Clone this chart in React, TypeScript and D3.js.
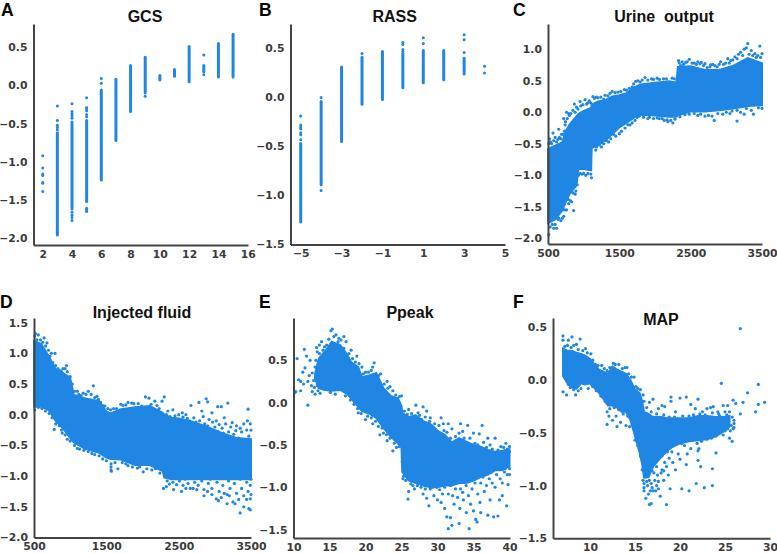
import { useEffect, useRef } from "react";
import * as d3 from "d3";

const BLUE = "#1f86e3";
const INK = "#3b3b3b";

type Pt = [number, number];
type Column = { at: number; bands: Pt[]; dots: number[] };

// A: GCS, one column per score. bands are [low, high] runs of overlapping dots
const gcsColumns: Column[] = [
  { at: 2, bands: [], dots: [-0.92, -1.08, -1.16, -1.18, -1.27, -1.28, -1.39] },
  { at: 3, bands: [[-1.96, -0.62]], dots: [-0.27, -0.46, -0.52, -0.55, -0.58] },
  { at: 4, bands: [[-1.62, -0.48]], dots: [-0.24, -0.34, -0.37, -0.4, -0.43, -1.66, -1.7, -1.73, -1.77] },
  { at: 5, bands: [[-1.52, -0.46]], dots: [-0.16, -0.29, -0.31, -0.33, -0.38, -0.41, -1.61, -1.63, -1.65] },
  { at: 6, bands: [[-1.24, -0.06]], dots: [0.09, 0.03] },
  { at: 7, bands: [[-0.72, 0.08]], dots: [] },
  { at: 8, bands: [[-0.34, 0.26]], dots: [] },
  { at: 9, bands: [[-0.08, 0.37]], dots: [-0.1, -0.14] },
  { at: 10, bands: [[0.07, 0.13]], dots: [] },
  { at: 11, bands: [[0.12, 0.21]], dots: [] },
  { at: 12, bands: [[0.05, 0.51]], dots: [] },
  { at: 13, bands: [[0.18, 0.26]], dots: [0.4, 0.14] },
  { at: 14, bands: [[0.11, 0.55]], dots: [] },
  { at: 15, bands: [[0.11, 0.67]], dots: [] },
];

// B: RASS
const rassColumns: Column[] = [
  { at: -5, bands: [[-1.27, -0.47]], dots: [-0.19, -0.28, -0.3, -0.32, -0.36, -0.38, -0.43] },
  { at: -4, bands: [[-0.89, -0.04]], dots: [0, -0.95] },
  { at: -3, bands: [[-0.45, 0.31]], dots: [] },
  { at: -2, bands: [[-0.07, 0.41]], dots: [0.45] },
  { at: -1, bands: [[-0.02, 0.47]], dots: [] },
  { at: 0, bands: [[0.1, 0.45]], dots: [0.49, 0.47, 0.54, 0.56] },
  { at: 1, bands: [[0.15, 0.48]], dots: [0.55, 0.61] },
  { at: 2, bands: [[0.18, 0.48]], dots: [] },
  { at: 3, bands: [[0.24, 0.4]], dots: [0.64, 0.59, 0.46] },
  { at: 4, bands: [], dots: [0.32, 0.25] },
];

// C: urine output, dense cloud outline [x, low, high] + loose dots around it
const urineCloud: [number, number, number][] = [
  [500, -1.76, -0.58], [600, -1.7, -0.53], [700, -1.56, -0.48], [750, -1.42, -0.3], [800, -1.3, -0.2],
  [900, -1.16, -0.06], [925, -0.9, -0.03], [1000, -0.9, 0.02], [1105, -0.92, 0.07], [1112, -0.57, 0.12],
  [1200, -0.52, 0.17], [1300, -0.45, 0.19], [1400, -0.35, 0.25], [1500, -0.24, 0.27], [1600, -0.17, 0.3],
  [1700, -0.09, 0.39], [1800, -0.04, 0.44], [2000, -0.05, 0.47], [2200, -0.07, 0.49], [2300, -0.07, 0.47],
  [2320, -0.05, 0.72], [2500, 0.01, 0.73], [2700, 0.01, 0.67], [2900, 0.03, 0.67], [3100, 0.06, 0.74],
  [3300, 0.1, 0.86], [3500, 0.11, 0.78],
];
const urineDots: Pt[] = [
  [3300, 1.09], [3470, 1.05], [3250, 1.0], [3200, 0.95], [3350, 0.98], [3400, 0.93], [3280, 1.02], [3440, 0.9],
  [3120, 0.88], [3020, 0.85], [3060, 0.82], [2920, 0.8], [2960, 0.76], [2650, 0.79], [2600, 0.8], [2700, 0.77],
  [2480, 0.84], [2330, 0.82], [2380, 0.8], [2430, 0.79], [2550, 0.78], [2780, 0.75], [2840, 0.74],
  [2030, 0.54], [1860, 0.55], [1950, 0.53], [2120, 0.53], [2240, 0.54], [1760, 0.5], [1680, 0.4], [1570, 0.36],
  [1400, 0.33], [1480, 0.32], [1300, 0.27], [1200, 0.23], [1130, 0.25], [1060, 0.15], [1020, 0.2], [950, 0.17],
  [870, 0.13], [900, 0.08], [760, 0], [790, -0.02], [720, -0.1], [740, -0.2], [650, -0.27], [570, -0.33],
  [520, -0.42], [600, -0.4], [660, -0.4], [690, -0.35], [550, -0.5], [530, -0.47],
  [1110, -1.04], [1030, -1.0], [980, -0.98], [860, -1.56], [880, -1.3], [830, -1.42], [790, -1.45], [760, -1.55],
  [720, -1.65], [680, -1.72], [650, -1.68], [620, -1.84], [580, -1.84], [560, -1.78], [510, -1.94],
  [1170, -0.6], [1250, -0.55], [1350, -0.47], [1450, -0.38], [1500, -0.34], [1650, -0.2], [1720, -0.13],
  [3150, -0.14], [2830, -0.13], [3250, -0.03], [3380, -0.03], [2250, -0.17], [2180, -0.15], [2130, -0.13],
  [2060, -0.1], [1900, -0.1], [2700, -0.06], [2600, -0.05], [2950, -0.03], [3050, -0.02], [3200, 0.0],
];
const urineEdge: Pt[] = [
  [510, -0.5], [540, -0.48], [580, -0.45], [620, -0.47], [640, -0.43], [680, -0.42], [710, -0.35], [730, -0.3], [745, -0.15],
  [770, -0.1], [800, -0.05], [820, -0.02], [850, 0.03], [880, 0.0], [920, 0.05], [960, 0.1], [990, 0.12], [1040, 0.13],
  [1080, 0.18], [1100, 0.15], [1150, 0.22], [1180, 0.24], [1240, 0.24], [1280, 0.21], [1340, 0.26], [1370, 0.3], [1440, 0.31],
  [1520, 0.33], [1600, 0.35], [1640, 0.38], [1700, 0.45], [1730, 0.49], [1790, 0.48], [1820, 0.51], [1900, 0.51], [1980, 0.52],
  [2060, 0.52], [2160, 0.53], [2270, 0.53], [2340, 0.78], [2360, 0.74], [2400, 0.76], [2450, 0.8], [2520, 0.78], [2580, 0.76],
  [2630, 0.77], [2680, 0.74], [2730, 0.71], [2770, 0.72], [2810, 0.76], [2870, 0.72], [2900, 0.76], [2990, 0.78], [3040, 0.78],
  [3090, 0.83], [3150, 0.85], [3170, 0.92], [3230, 0.9], [3320, 0.92], [3370, 0.9], [3420, 0.87], [3480, 0.87], [3500, 0.93],
  [1180, -0.55], [1220, -0.52], [1280, -0.5], [1320, -0.45], [1380, -0.42], [1420, -0.35], [1530, -0.3], [1580, -0.25],
  [1620, -0.2], [1680, -0.17], [1750, -0.08], [1780, -0.06], [1840, -0.08], [1920, -0.08], [1980, -0.1], [2030, -0.09],
  [2100, -0.1], [2170, -0.12], [2220, -0.13], [2280, -0.11], [2350, -0.07], [2420, -0.04], [2480, -0.03], [2550, -0.02],
  [2640, -0.03], [2750, -0.05], [2800, -0.06], [2880, -0.02], [3000, 0], [3080, 0.02], [3150, 0.03], [3280, 0.06], [3350, 0.03],
  [3450, 0.07], [3500, 0.06], [530, -1.82], [600, -1.78], [640, -1.7], [700, -1.68], [730, -1.55], [780, -1.38], [810, -1.4],
  [850, -1.28], [890, -1.25], [910, -1.15], [925, -1.0], [950, -0.97], [1000, -0.97], [1060, -0.97], [1100, -0.98],
];

// D: injected fluid
const fluidCloud: [number, number, number][] = [
  [500, 0.13, 1.2], [600, 0.13, 1.15], [700, 0.08, 0.96], [800, -0.1, 0.74], [900, -0.22, 0.68], [1000, -0.38, 0.6],
  [1050, -0.45, 0.32], [1200, -0.55, 0.27], [1400, -0.62, 0.22], [1500, -0.7, 0.05], [1560, -0.72, 0.02],
  [1700, -0.73, 0.09], [1900, -0.82, 0.12], [2100, -0.82, 0.14], [2280, -0.92, 0.03], [2300, -1.02, 0], [2400, -1.05, -0.05],
  [2500, -1.05, -0.06], [2700, -1.05, -0.12], [2900, -1.05, -0.2], [3100, -1.05, -0.3], [3300, -1.05, -0.38], [3500, -1.05, -0.4],
];
const fluidDots: Pt[] = [
  [520, 1.32], [560, 1.3], [640, 1.25], [680, 1.17], [740, 1.0], [790, 1.0], [950, 0.8], [930, 0.75], [880, 0.7],
  [1320, 0.47], [1250, 0.38], [1180, 0.35], [1100, 0.38], [1370, 0.3], [1420, 0.2], [1480, 0.14], [1600, 0.1],
  [1700, 0.17], [1800, 0.2], [1850, 0.19], [1940, 0.18], [2040, 0.29], [2090, 0.27], [2170, 0.22], [2300, 0.29],
  [2270, 0.22], [2200, 0.15], [2350, 0.06], [2420, 0.08], [2550, 0.03], [2600, 0.0], [2670, 0.15], [2780, 0.2],
  [2880, 0.26], [2900, 0.21], [2820, 0.06], [2960, 0.03], [3040, 0.13], [3090, 0.13], [3180, 0.19], [3130, -0.05],
  [3240, -0.13], [3300, -0.18], [3460, 0.09], [3450, -0.1], [3400, -0.15], [3490, -0.15], [3350, -0.22],
  [780, -0.24], [890, -0.3], [960, -0.4], [1100, -0.55], [1300, -0.63], [1450, -0.72],
  [1565, -0.8], [1565, -0.85], [1565, -0.9], [1570, -0.92], [1660, -0.88], [1800, -0.83], [1930, -0.87], [2010, -0.93],
  [2130, -0.9], [2290, -1.2], [2430, -1.22], [2330, -1.17], [2540, -1.25], [2600, -1.2], [2700, -1.2], [2750, -1.22],
  [2850, -1.32], [2900, -1.25], [2960, -1.3], [3050, -1.4], [3090, -1.35], [3020, -1.37], [3170, -1.45], [3200, -1.32],
  [3250, -1.42], [3280, -1.45], [3350, -1.6], [3400, -1.5], [3470, -1.53], [3490, -1.55], [3440, -1.38], [3490, -1.37],
  [3330, -1.38], [3130, -1.28],
];
const fluidEdge: Pt[] = [
  [510, 1.28], [540, 1.22], [590, 1.22], [620, 1.18], [660, 1.12], [700, 1.05], [720, 0.95], [760, 0.85], [800, 0.8], [830, 0.75],
  [860, 0.72], [900, 0.75], [960, 0.7], [1000, 0.62], [1030, 0.5], [1060, 0.38], [1120, 0.33], [1150, 0.31], [1220, 0.33],
  [1290, 0.33], [1340, 0.28], [1390, 0.25], [1450, 0.15], [1520, 0.1], [1560, 0.08], [1640, 0.1], [1730, 0.15], [1770, 0.16],
  [1880, 0.18], [1990, 0.14], [2120, 0.17], [2230, 0.1], [510, 0.08], [560, 0.12], [610, 0.1], [660, 0.06], [710, 0.02],
  [750, -0.05], [800, -0.15], [850, -0.18], [880, -0.25], [930, -0.33], [1000, -0.43], [1060, -0.5], [1130, -0.56], [1190, -0.58],
  [1250, -0.6], [1340, -0.65], [1400, -0.67], [1500, -0.75], [1620, -0.78], [1720, -0.78], [1770, -0.8], [1860, -0.85],
  [1960, -0.85], [2060, -0.88], [2180, -0.88], [2240, -0.95],
  // thinning part on the right, above the solid core
  [2330, 0.0], [2380, -0.03], [2450, -0.02], [2500, 0.0], [2560, -0.04], [2620, -0.06], [2650, -0.1], [2710, -0.05], [2740, -0.12],
  [2790, -0.1], [2840, -0.03], [2860, -0.15], [2920, -0.08], [2970, -0.12], [3000, -0.2], [3020, -0.1], [3060, -0.16], [3100, -0.22],
  [3150, -0.15], [3190, -0.28], [3220, -0.2], [3260, -0.32], [3290, -0.26], [3330, -0.38], [3370, -0.28], [3410, -0.4], [3440, -0.25],
  [3470, -0.35], [3490, -0.42], [3500, -0.25], [2680, -0.14], [2800, -0.2], [2900, -0.18], [3050, -0.28], [3120, -0.3], [3240, -0.38],
  // and below it
  [2340, -1.08], [2370, -1.13], [2420, -1.1], [2470, -1.14], [2510, -1.08], [2560, -1.15], [2590, -1.05], [2630, -1.12], [2660, -1.2],
  [2680, -1.03], [2720, -1.1], [2770, -1.15], [2790, -1.0], [2820, -1.08], [2850, -1.22], [2880, -0.98], [2910, -1.12], [2940, -1.05],
  [2960, -1.2], [3000, -0.95], [3030, -1.1], [3060, -1.25], [3080, -1.02], [3110, -1.15], [3140, -0.92], [3170, -1.3], [3190, -1.08],
  [3210, -1.2], [3240, -0.95], [3270, -1.12], [3300, -1.28], [3320, -0.88], [3350, -1.05], [3370, -1.2], [3400, -1.32], [3420, -0.9],
  [3440, -1.1], [3460, -1.25], [3480, -0.95], [3490, -1.15], [3500, -1.3], [3500, -1.05], [3390, -0.98], [3160, -1.0], [3450, -0.85],
];

// E: Ppeak
const ppeakCloud: [number, number, number][] = [
  [13, 0.28, 0.34], [13.5, 0.17, 0.52], [14.5, 0.15, 0.62], [15.3, 0.14, 0.72], [16.5, 0.15, 0.68], [17.5, 0.1, 0.56], [18, 0.05, 0.48],
  [19, -0.05, 0.42], [19.5, -0.1, 0.3], [20.5, -0.13, 0.32], [21.5, -0.18, 0.35], [22.5, -0.3, 0.17], [23.5, -0.4, 0.08],
  [24.5, -0.48, 0.05], [25, -0.53, -0.04], [25.1, -0.82, -0.12], [26, -0.92, -0.17], [27, -0.95, -0.15], [28, -0.98, -0.22],
  [29, -1.0, -0.25], [30, -1.0, -0.33], [31, -0.98, -0.38], [32, -0.98, -0.47], [33, -0.95, -0.42], [34, -0.95, -0.46],
  [35, -0.92, -0.5], [36, -0.88, -0.52], [37, -0.85, -0.56], [38, -0.8, -0.58], [39, -0.8, -0.57], [40, -0.75, -0.55],
];
const ppeakDots: Pt[] = [
  [10.3, 0.13], [10.5, 0.52], [10.2, 0.12], [10.7, 0.27], [11, 0.14], [11, 0.25], [11.3, 0.36], [11.4, 0.22],
  [11.5, 0.63], [11.6, 0.41], [11.8, 0.55], [12, -0.03], [12, 0.25], [12.3, 0.5], [12.2, 0.32], [12.5, 0.2], [12.6, 0.13],
  [13, 0.1], [13.1, 0.3], [13, 0.42], [13.2, 0.65], [13.3, 0.6], [13.6, 0.68], [13.9, 0.72], [14.1, 0.62],
  [15.2, 0.85], [15.4, 0.87], [15.9, 0.8], [16.3, 0.76], [17, 0.78], [17.3, 0.72], [18, 0.62], [18.8, 0.55], [19.5, 0.42],
  [21, 0.42], [21.2, 0.47], [22.1, 0.34], [23, 0.25], [23.4, 0.19], [25, 0.08], [26, -0.08], [27, -0.03], [28, -0.05],
  [28.5, -0.1], [27.5, -0.15], [29, -0.18], [30.5, -0.18], [30.8, -0.25], [31.5, -0.25], [32, -0.31], [33.2, -0.25],
  [33.5, -0.34], [34.2, -0.27], [35, -0.36], [36.2, -0.27], [35.8, -0.37], [37, -0.42], [38, -0.42], [39.5, -0.48], [40, -0.52],
  [18.5, 0], [19, -0.12], [20, -0.2], [21, -0.25], [22, -0.38], [22.5, -0.36], [23, -0.45], [23.8, -0.57], [24.3, -0.53],
  [25.2, -0.9], [26, -1.05], [25.9, -1.14], [26.8, -1.02], [28, -1.08], [28.5, -1.13], [28.8, -1.22], [29.5, -1.1],
  [30, -1.15], [30.5, -1.18], [31, -1.25], [31.3, -1.35], [31.5, -1.49], [31.8, -1.36], [32, -1.45], [32.3, -1.2],
  [33, -1.43], [33.1, -1.25], [33.6, -1.15], [34.4, -1.49], [34, -1.3], [34.6, -1.2], [35, -1.28], [35.3, -1.38], [35.5, -1.41],
  [35.9, -1.18], [36, -1.3], [36.5, -1.05], [37, -1.33], [37.3, -1.15], [37.8, -1.35], [38, -1.0], [38.4, -1.34], [38.6, -1.15],
  [39, -1.1], [39, -0.95], [39.6, -1.22], [39.8, -0.97], [40, -0.85],
];
const ppeakEdge: Pt[] = [
  [12.6, 0.35], [12.8, 0.26], [12.9, 0.18], [13.1, 0.5], [13.3, 0.2], [13.4, 0.14], [13.6, 0.58], [13.7, 0.11], [14, 0.53], [14.2, 0.16],
  [14.3, 0.66], [14.6, 0.68], [14.9, 0.75], [15.1, 0.12], [15.6, 0.78], [15.8, 0.1], [16.2, 0.72], [16.6, 0.74], [17, 0.64], [17.7, 0.58],
  [18.2, 0.52], [18.6, 0.48], [19.1, 0.46], [19.7, 0.34], [20, 0.36], [20.4, 0.36], [20.8, 0.38], [21.8, 0.32], [22.6, 0.22], [23.1, 0.17],
  [23.8, 0.14], [24.2, 0.09], [24.7, 0.07], [25.4, -0.1], [25.8, -0.14], [26.4, -0.13], [26.8, -0.16], [27.3, -0.12], [27.8, -0.2], [28.3, -0.17],
  [28.9, -0.22], [29.6, -0.25], [30.2, -0.27], [30.9, -0.33], [31.3, -0.35], [31.8, -0.42], [32.5, -0.4], [33, -0.36], [33.7, -0.42], [34.5, -0.42],
  [35.2, -0.48], [35.6, -0.5], [36.4, -0.47], [36.8, -0.53], [37.3, -0.5], [37.6, -0.55], [38.4, -0.56], [38.8, -0.52], [39.2, -0.53], [39.7, -0.55],
  [40, -0.58], [17.2, 0.08], [17.9, 0.03], [18.4, -0.02], [18.9, -0.07], [19.4, -0.13], [20.3, -0.16], [20.8, -0.18], [21.4, -0.22], [21.8, -0.28],
  [22.3, -0.3], [22.9, -0.38], [23.4, -0.42], [24, -0.48], [24.7, -0.52], [25.1, -0.7], [25.3, -0.87], [25.6, -0.92], [26.3, -0.96], [26.6, -0.98],
  [27.2, -0.98], [27.7, -1.0], [28.3, -1.02], [29, -1.02], [29.3, -1.0], [29.9, -1.0], [30.3, -1.03], [30.7, -1.08], [31, -1.0], [31.5, -1.08],
  [31.8, -0.98], [32.1, -1.1], [32.5, -1.02], [32.8, -1.12], [33.2, -1.02], [33.5, -1.06], [34, -0.98], [34.3, -1.1], [34.8, -1.02], [35.2, -0.95],
  [35.6, -1.08], [36, -0.95], [36.3, -0.88], [36.8, -0.98], [37.2, -0.9], [37.6, -0.95], [38.2, -0.85], [38.7, -0.9], [39.3, -0.82], [39.7, -0.85],
  [40, -0.78], [38.2, -0.7], [38.8, -0.66], [39.4, -0.78], [39.9, -0.62], [37.5, -0.82],
];

// F: MAP
const mapCloud: [number, number, number][] = [
  [7, 0.04, 0.3], [7.5, -0.03, 0.28], [8, -0.07, 0.28], [8.5, -0.08, 0.26], [9, -0.03, 0.25], [9.5, -0.04, 0.23], [10, -0.03, 0.2],
  [11, -0.12, 0.1], [11.5, -0.18, 0.08], [12, -0.24, 0.06], [12.5, -0.24, 0.13], [13, -0.26, 0.1], [13.5, -0.3, 0.08], [14, -0.3, 0.06],
  [14.5, -0.38, 0], [15, -0.53, -0.09], [15.5, -0.68, -0.12], [15.8, -0.8, -0.2], [16, -0.92, -0.3], [16.5, -0.92, -0.32],
  [17, -0.82, -0.35], [18, -0.72, -0.35], [18.5, -0.68, -0.36], [19, -0.64, -0.36], [20, -0.6, -0.36], [21, -0.58, -0.36],
  [22, -0.57, -0.34], [23, -0.56, -0.34], [24, -0.53, -0.35], [25, -0.48, -0.35], [25.5, -0.44, -0.34],
];
const mapDots: Pt[] = [
  [7, 0.42], [7, 0.38], [7.6, 0.38], [8, 0.41], [8.5, 0.34], [8.9, 0.39], [9.5, 0.3], [10.1, 0.25], [7, -0.11], [7.4, -0.14], [8.4, -0.14],
  [7.8, -0.07], [9, -0.08], [9.8, -0.08], [11.3, 0.14], [12.6, 0.16], [13.2, 0.15], [14.1, 0.12], [14.9, 0.03], [15.3, -0.08],
  [11.9, -0.3], [11.9, -0.42], [12.1, -0.34], [12.5, -0.38], [12.9, -0.34], [13, -0.44], [13.4, -0.4], [14, -0.43], [14.4, -0.44],
  [16, -1.05], [16, -1.02], [16.2, -1.12], [16.5, -1.08], [16.6, -1.18], [16.8, -1.17], [17, -1.05], [17.3, -1.05], [17.6, -1.03],
  [17.8, -1.1], [18.5, -1.18], [18.2, -0.95], [18.7, -0.9], [17.5, -0.9], [16.8, -0.98], [17.1, -0.88], [18, -0.85], [18.9, -1.03],
  [19.5, -0.85], [20, -0.75], [19.2, -0.78], [20.2, -1.03], [21, -1.05], [21.8, -0.98], [22.7, -1.02], [23.6, -1.0], [20.7, -0.8],
  [20.8, -0.7], [21.2, -0.65], [22, -0.76], [22.3, -0.82], [22, -0.67], [23.6, -0.84], [24, -0.69], [22.1, -0.65], [19.8, -0.7],
  [25.8, -0.58], [25.6, -0.48], [25.9, -0.46], [26, -0.45], [25.5, -0.55], [24.8, -0.52],
  [16, -0.2], [16.6, -0.21], [17, -0.18], [17.6, -0.27], [18, -0.24], [18.3, -0.25], [19, -0.16], [19, -0.2], [20, -0.17], [20.7, -0.16],
  [19.5, -0.3], [21.2, -0.23], [21.7, -0.27], [22, -0.18], [22.5, -0.3], [23, -0.27], [23.4, -0.26], [23.7, -0.25], [24.2, -0.3],
  [24.6, -0.03], [24.8, -0.24], [25.3, -0.24], [25.9, -0.19], [26.2, -0.22], [26.7, -0.32], [26.7, 0.49], [27, -0.21], [27.5, -0.12],
  [28.4, -0.3], [28.7, -0.04], [28.7, -0.23], [29.4, -0.21], [25, -0.3], [25.5, -0.3], [24.3, -0.32],
];
const mapEdge: Pt[] = [
  [7.2, 0.32], [7.5, 0.33], [7.9, 0.31], [8.2, 0.33], [8.7, 0.29], [9.2, 0.28], [9.7, 0.26], [10.3, 0.19], [10.6, 0.15], [10.9, 0.14], [11.6, 0.11],
  [11.9, 0.09], [12.2, 0.12], [12.8, 0.15], [13.6, 0.11], [13.9, 0.12], [14.3, 0.06], [14.6, 0.03], [15.1, -0.06], [15.6, -0.09], [15.9, -0.14],
  [16.3, -0.26], [16.8, -0.3], [17.4, -0.32], [18.2, -0.33], [18.8, -0.35], [19.4, -0.35], [20.3, -0.34], [21, -0.34], [21.5, -0.33], [22.2, -0.32],
  [22.8, -0.33], [23.6, -0.31], [24.4, -0.34], [25.2, -0.33], [25.8, -0.35], [25.4, -0.37], [26, -0.38], [26, -0.41], [25.7, -0.43],
  [7.6, -0.04], [8.2, -0.09], [8.7, -0.1], [9.3, -0.03], [10.3, -0.06], [10.7, -0.1], [11.2, -0.15], [11.7, -0.2], [12.2, -0.27], [12.7, -0.26],
  [13.2, -0.28], [13.7, -0.32], [14.2, -0.34], [14.7, -0.42], [15, -0.57], [15.3, -0.62], [15.6, -0.72], [15.8, -0.85], [15.9, -0.95], [16, -0.98],
  [16.3, -0.96], [16.6, -0.95], [16.9, -0.86], [17.2, -0.78], [17.4, -0.82], [17.7, -0.7], [18, -0.72], [18.3, -0.78], [18.6, -0.68], [18.9, -0.64],
  [19.3, -0.62], [19.7, -0.58], [20.2, -0.6], [20.5, -0.62], [21, -0.57], [21.5, -0.56], [21.9, -0.6], [22.4, -0.58], [23, -0.56], [23.5, -0.55],
  [24, -0.53], [24.5, -0.5], [25, -0.48], [25.3, -0.46], [16.4, -1.0], [16.9, -1.02], [17.2, -0.95], [17.6, -0.96], [17.9, -0.88], [18.2, -0.86],
  [18.5, -0.82], [18.8, -0.74], [19.1, -0.68], [16.1, -0.92], [17.4, -1.0], [16.7, -1.05],
];

const gcsTicksX = [2, 4, 6, 8, 10, 12, 14, 16];
const gcsTicksY = [-2, -1.5, -1, -0.5, 0, 0.5];
const rassTicksX = [-5, -3, -1, 1, 3, 5];
const rassTicksY = [-1.5, -1, -0.5, 0, 0.5];
const urineTicksX = [500, 1500, 2500, 3500];
const urineTicksY = [-2, -1.5, -1, -0.5, 0, 0.5, 1];
const fluidTicksX = [500, 1500, 2500, 3500];
const fluidTicksY = [-2, -1.5, -1, -0.5, 0, 0.5, 1, 1.5];
const ppeakTicksX = [10, 15, 20, 25, 30, 35, 40];
const ppeakTicksY = [-1.5, -1, -0.5, 0, 0.5];
const mapTicksX = [10, 15, 20, 25, 30];
const mapTicksY = [-1.5, -1, -0.5, 0, 0.5];

type Panel = {
  letter: string;
  letterX: number;
  letterY: number;
  title: string;
  titleX: number;
  titleY: number;
  left: number;
  right: number;
  top: number;
  bottom: number;
  xDomain: [number, number];
  yDomain: [number, number];
  xTicks: number[];
  yTicks: number[];
  columns?: Column[];
  cloud?: [number, number, number][];
  dots?: Pt[];
};

const PANELS: Panel[] = [
  { letter: "A", letterX: 1, letterY: 16, title: "GCS", titleX: 145, titleY: 22, left: 33.5, right: 248, top: 24, bottom: 245,
    xDomain: [1.37, 16.02], yDomain: [-2.09, 0.805], xTicks: gcsTicksX, yTicks: gcsTicksY, columns: gcsColumns },
  { letter: "B", letterX: 259, letterY: 16, title: "RASS", titleX: 394.7, titleY: 22, left: 290.5, right: 505, top: 24, bottom: 244.5,
    xDomain: [-5.5, 5], yDomain: [-1.5, 0.75], xTicks: rassTicksX, yTicks: rassTicksY, columns: rassColumns },
  { letter: "C", letterX: 513, letterY: 16, title: "Urine  output", titleX: 664, titleY: 22, left: 548, right: 762, top: 24, bottom: 244,
    xDomain: [500, 3500], yDomain: [-2.09, 1.4], xTicks: urineTicksX, yTicks: urineTicksY, cloud: urineCloud, dots: [...urineDots, ...urineEdge] },
  { letter: "D", letterX: 0, letterY: 308, title: "Injected fluid", titleX: 142, titleY: 318, left: 34, right: 251, top: 318, bottom: 537.5,
    xDomain: [500, 3500], yDomain: [-2, 1.575], xTicks: fluidTicksX, yTicks: fluidTicksY, cloud: fluidCloud, dots: [...fluidDots, ...fluidEdge] },
  { letter: "E", letterX: 259, letterY: 308, title: "Ppeak", titleX: 410, titleY: 318, left: 293.5, right: 510, top: 318, bottom: 538,
    xDomain: [10, 40.07], yDomain: [-1.6, 1.0], xTicks: ppeakTicksX, yTicks: ppeakTicksY, cloud: ppeakCloud, dots: [...ppeakDots, ...ppeakEdge] },
  { letter: "F", letterX: 513, letterY: 308, title: "MAP", titleX: 661, titleY: 325, left: 553, right: 770, top: 318, bottom: 538.3,
    xDomain: [5.89, 30], yDomain: [-1.5, 0.59], xTicks: mapTicksX, yTicks: mapTicksY, cloud: mapCloud, dots: [...mapDots, ...mapEdge] },
];

function drawPanel(svg: d3.Selection<SVGSVGElement, unknown, null, undefined>, p: Panel) {
  const x = d3.scaleLinear().domain(p.xDomain).range([p.left, p.right]);
  const y = d3.scaleLinear().domain(p.yDomain).range([p.bottom, p.top]);
  const g = svg.append("g");

  if (p.cloud) {
    const area = d3
      .area<[number, number, number]>()
      .x((d) => x(d[0]))
      .y0((d) => y(d[1]))
      .y1((d) => y(d[2]));
    g.append("path").attr("d", area(p.cloud)).attr("fill", BLUE).attr("stroke", BLUE).attr("stroke-width", 2);
  }

  if (p.columns) {
    const line = d3.line<number>().x(0).y((d) => y(d));
    p.columns.forEach((col) => {
      const cx = x(col.at);
      col.bands.forEach((band) => {
        g.append("path")
          .attr("d", line(band))
          .attr("transform", `translate(${cx},0)`)
          .attr("stroke", BLUE)
          .attr("stroke-width", 3)
          .attr("stroke-linecap", "round");
      });
      g.selectAll(null)
        .data(col.dots)
        .join("circle")
        .attr("cx", cx)
        .attr("cy", (d) => y(d))
        .attr("r", 1.5)
        .attr("fill", BLUE);
    });
  }

  if (p.dots) {
    g.selectAll(null)
      .data(p.dots)
      .join("circle")
      .attr("cx", (d) => x(d[0]))
      .attr("cy", (d) => y(d[1]))
      .attr("r", 1.6)
      .attr("fill", BLUE);
  }

  const xAxis = d3.axisBottom(x).tickValues(p.xTicks).tickSize(0).tickPadding(5).tickFormat(d3.format("d") as any);
  const yAxis = d3.axisLeft(y).tickValues(p.yTicks).tickSize(0).tickPadding(6).tickFormat(d3.format(".1f") as any);

  [
    g.append("g").attr("transform", `translate(0,${p.bottom})`).call(xAxis),
    g.append("g").attr("transform", `translate(${p.left},0)`).call(yAxis),
  ].forEach((axis) => {
    axis.selectAll("text")
      .attr("fill", INK)
      .attr("font-family", "'DejaVu Sans'")
      .attr("font-weight", "bold")
      .attr("font-size", 10.8);
    axis.select(".domain").attr("stroke", "#444").attr("stroke-width", 2);
  });

  svg.append("text")
    .attr("x", p.titleX)
    .attr("y", p.titleY)
    .attr("text-anchor", "middle")
    .style("white-space", "pre")
    .attr("font-family", "'Liberation Sans'")
    .attr("font-weight", "bold")
    .attr("font-size", 16)
    .attr("fill", "#111")
    .text(p.title);

  svg.append("text")
    .attr("x", p.letterX)
    .attr("y", p.letterY)
    .attr("font-family", "'Liberation Sans'")
    .attr("font-weight", "bold")
    .attr("font-size", 17.5)
    .attr("fill", "#000")
    .text(p.letter);
}

export default function App() {
  const svgRef = useRef<SVGSVGElement>(null);

  useEffect(() => {
    if (!svgRef.current) return;
    const svg = d3.select(svgRef.current);
    svg.selectAll("*").remove();
    PANELS.forEach((p) => drawPanel(svg, p));
  }, []);

  return (
    <svg
      ref={svgRef}
      width={777}
      height={553}
      style={{ position: "absolute", left: 0, top: 0, background: "#fff" }}
    />
  );
}
